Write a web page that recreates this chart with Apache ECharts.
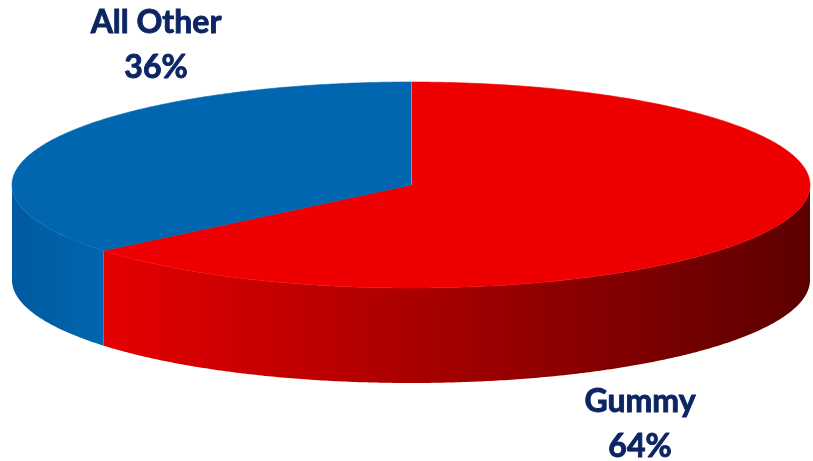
<!DOCTYPE html>
<html>
<head>
<meta charset="utf-8">
<style>
  html, body { margin: 0; padding: 0; background: #ffffff; }
  #chart { width: 813px; height: 461px; }
</style>
<script src="https://cdn.jsdelivr.net/npm/echarts@6/dist/echarts.min.js"></script>
</head>
<body>
<div id="chart"></div>
<script>
// Share of sales by product type
const categories = ['Gummy', 'All Other'];
const shares = [64, 36];

// Look of the slices: top face colour and the side-wall gradient (left -> right)
const topColors = ['#ee0000', '#0066b0'];
const sideColors = [['#e60000', '#5c0000'], ['#005a9f', '#0066b0']];

// Layout of the tilted disc
const disc = { cx: 411, cy: 185, rx: 399, ry: 103, depth: 95 };
const labelPos = [[640, 424], [156, 45]];

const total = shares.reduce((a, b) => a + b, 0);
let acc = 0;
const seriesData = shares.map((v, i) => {
  const start = acc;
  acc += v;
  return { name: categories[i], value: [v, start] };
});

// angle measured clockwise from 12 o'clock, in degrees
function pt(phi, dy) {
  const r = phi * Math.PI / 180;
  return [disc.cx + disc.rx * Math.sin(r), disc.cy - disc.ry * Math.cos(r) + (dy || 0)];
}
function arc(a0, a1, dy) {
  const pts = [];
  const n = Math.max(2, Math.ceil(Math.abs(a1 - a0) / 0.5));
  for (let k = 0; k <= n; k++) pts.push(pt(a0 + (a1 - a0) * k / n, dy));
  return pts;
}

function renderSide(params, api) {
  const i = params.dataIndex;
  const a0 = api.value(1) / total * 360;
  const a1 = (api.value(1) + api.value(0)) / total * 360;
  const lo = Math.max(a0, 90), hi = Math.min(a1, 270);
  if (hi <= lo) return null;
  const pts = arc(lo, hi, 0).concat(arc(hi, lo, disc.depth));
  return {
    type: 'polygon',
    shape: { points: pts },
    style: {
      fill: {
        type: 'linear', x: 0, y: 0, x2: 1, y2: 0,
        colorStops: [
          { offset: 0, color: sideColors[i][0] },
          { offset: 1, color: sideColors[i][1] }
        ]
      }
    }
  };
}

function renderTop(params, api) {
  const i = params.dataIndex;
  const a0 = api.value(1) / total * 360;
  const a1 = (api.value(1) + api.value(0)) / total * 360;
  const pts = [[disc.cx, disc.cy]].concat(arc(a0, a1, 0));
  const children = [{
    type: 'polygon',
    shape: { points: pts },
    style: { fill: topColors[i], stroke: topColors[i], lineWidth: 0.6 }
  }];
  if (a0 === 0) {
    const e = pt(0, 0);
    children.push({
      type: 'line',
      shape: { x1: disc.cx, y1: disc.cy, x2: e[0], y2: e[1] },
      style: { stroke: '#c9d3dc', lineWidth: 1.5 }
    });
  }
  children.push({
    type: 'text',
    style: {
      x: labelPos[i][0], y: labelPos[i][1],
      text: categories[i] + '\n' + api.value(0) + '%',
      fill: '#0d2563',
      stroke: '#0d2563',
      lineWidth: 0.9,
      font: 'bold 32px Lato, "Open Sans", sans-serif',
      lineHeight: 45,
      align: 'center', verticalAlign: 'middle'
    }
  });
  return { type: 'group', children };
}

const chart = echarts.init(document.getElementById('chart'), null, { renderer: 'canvas' });
chart.setOption({
  animation: false,
  backgroundColor: '#ffffff',
  series: [
    { type: 'custom', coordinateSystem: 'none', z: 1, renderItem: renderSide, data: seriesData, silent: true },
    { type: 'custom', coordinateSystem: 'none', z: 2, renderItem: renderTop, data: seriesData, silent: true }
  ]
});
</script>
</body>
</html>
